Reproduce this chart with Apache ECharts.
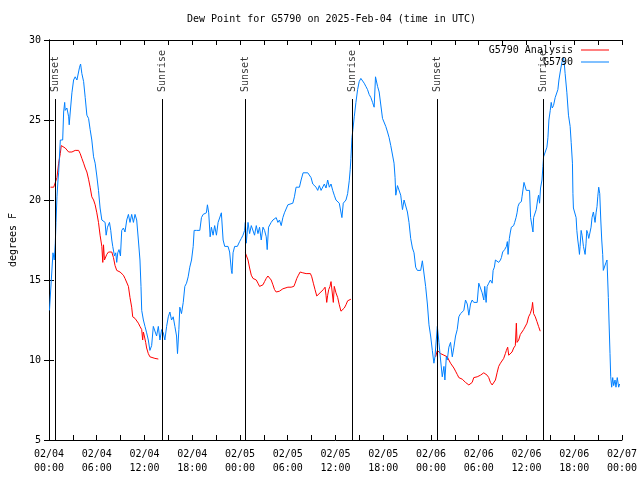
<!DOCTYPE html>
<html>
<head>
<meta charset="utf-8">
<script src="https://cdn.jsdelivr.net/npm/echarts@6/dist/echarts.min.js"></script>
<style>html,body{margin:0;padding:0;background:#fff}#c{width:640px;height:480px}</style>
</head>
<body>
<div id="c"></div>
<script>
// x tick labels (every 6 hours from 02/04 00:00 UTC)
const xTickLabels = ['02/04\n00:00','02/04\n06:00','02/04\n12:00','02/04\n18:00','02/05\n00:00','02/05\n06:00','02/05\n12:00','02/05\n18:00','02/06\n00:00','02/06\n06:00','02/06\n12:00','02/06\n18:00','02/07\n00:00'];
const yTicks = [5, 10, 15, 20, 25, 30];

// Sunrise / sunset times (hours after 02/04 00:00 UTC)
const sunHours = [0.79, 14.24, 24.71, 38.07, 48.80, 62.15];
const sunLabels = ['Sunset', 'Sunrise', 'Sunset', 'Sunrise', 'Sunset', 'Sunrise'];

// G5790 observations: [hour, dew point F]
const obs = [
[0.06,13.1],[0.16,13.1],[0.29,15.0],[0.50,16.7],[0.66,16.25],[0.79,17.3],[0.88,18.6],[1.00,20.2],[1.13,21.25],[1.21,21.7],
[1.42,23.75],[1.72,23.75],[1.84,25.5],[1.97,26.1],[2.04,25.6],[2.25,25.75],[2.47,25.2],[2.54,24.7],[2.67,25.5],[2.88,26.7],
[3.09,27.5],[3.29,27.7],[3.51,27.5],[3.72,27.5],[3.84,28.3],[3.97,28.5],[4.13,27.9],[4.35,27.4],[4.55,26.4],[4.76,25.3],
[4.97,25.1],[5.17,24.4],[5.38,23.75],[5.60,22.7],[5.80,22.3],[6.01,21.5],[6.22,20.6],[6.42,19.5],[6.64,18.75],[6.85,18.75],
[7.05,18.6],[7.18,17.8],[7.35,18.3],[7.48,18.25],[7.60,18.6],[7.76,18.1],[7.89,17.5],[8.01,17.1],[8.23,16.5],[8.39,16.7],
[8.51,16.1],[8.64,16.7],[8.80,16.9],[8.98,16.5],[9.14,18.1],[9.35,18.25],[9.55,18.0],[9.77,18.75],[9.98,19.1],[10.18,18.6],
[10.39,19.1],[10.61,18.6],[10.81,19.1],[11.02,18.75],[11.23,17.5],[11.43,16.25],[11.56,14.6],[11.65,13.1],[11.86,12.5],[12.06,12.1],
[12.27,11.7],[12.48,11.25],[12.68,10.6],[12.90,10.9],[13.11,12.1],[13.31,12.2],[13.52,11.5],[13.74,12.1],[13.94,11.25],[14.15,11.9],
[14.36,11.7],[14.56,11.25],[14.78,12.1],[14.99,12.7],[15.19,13.0],[15.40,12.5],[15.61,12.7],[15.82,12.1],[16.03,11.5],[16.15,10.4],
[16.32,11.9],[16.44,13.3],[16.65,12.9],[16.87,13.6],[17.07,14.6],[17.28,14.8],[17.49,15.2],[17.69,15.8],[17.91,16.25],[18.12,17.1],
[18.24,18.1],[18.53,18.1],[18.95,18.1],[19.16,18.9],[19.37,19.1],[19.57,19.2],[19.78,19.2],[19.91,19.7],[20.07,19.2],[20.25,17.7],
[20.41,18.3],[20.62,17.8],[20.82,18.4],[21.04,17.8],[21.25,18.6],[21.45,18.6],[21.66,19.2],[21.88,17.5],[22.08,17.1],[22.50,17.1],
[22.70,16.75],[22.92,15.6],[23.00,15.4],[23.13,16.7],[23.33,17.1],[23.67,17.1],[23.95,17.4],[24.17,17.6],[24.38,17.8],[24.58,18.1],
[24.67,18.6],[24.79,17.3],[25.01,18.6],[25.21,17.9],[25.42,18.4],[25.63,18.3],[25.83,17.8],[26.05,18.4],[26.26,17.9],[26.46,18.3],
[26.67,17.5],[26.89,18.3],[27.09,18.1],[27.30,17.7],[27.42,16.9],[27.59,18.3],[27.92,18.6],[28.14,18.75],[28.34,18.75],[28.55,18.9],
[28.76,18.6],[28.96,18.75],[29.18,18.4],[29.39,18.9],[29.59,19.2],[29.80,19.3],[30.02,19.7],[30.22,19.8],[30.64,19.8],[30.84,20.2],
[31.05,20.8],[31.47,20.8],[31.68,21.25],[31.93,21.7],[32.52,21.7],[32.93,21.4],[33.15,21.0],[33.56,20.8],[33.77,20.6],[33.97,20.9],
[34.19,20.6],[34.60,21.0],[34.81,20.75],[35.02,21.25],[35.23,20.8],[35.44,21.0],[35.65,20.6],[35.85,20.3],[36.06,20.0],[36.28,19.9],
[36.48,19.8],[36.69,19.7],[36.81,18.9],[36.98,19.8],[37.32,20.0],[37.53,20.4],[37.73,21.2],[37.85,21.9],[37.94,22.6],[38.07,23.9],
[38.19,24.4],[38.36,25.2],[38.57,26.1],[38.78,26.9],[38.98,27.4],[39.19,27.6],[39.41,27.6],[39.61,27.3],[39.82,27.1],[40.03,26.9],
[40.23,26.6],[40.45,26.4],[40.66,26.1],[40.86,25.8],[41.03,27.7],[41.16,27.8],[41.29,27.1],[41.49,26.75],[41.70,26.7],[41.91,25.1],
[42.11,25.0],[42.32,24.6],[42.54,24.25],[42.74,23.9],[42.95,23.4],[43.16,23.3],[43.36,22.3],[43.49,21.4],[43.58,20.3],[43.79,20.9],
[43.99,20.9],[44.20,20.3],[44.42,19.4],[44.62,20.0],[44.83,20.0],[45.04,19.25],[45.24,18.6],[45.45,17.6],[45.67,17.0],[45.87,16.7],
[46.08,15.8],[46.29,15.6],[46.71,15.6],[46.92,16.2],[47.12,16.25],[47.33,14.6],[47.55,13.5],[47.75,12.2],[47.96,11.5],[48.17,10.6],
[48.37,9.8],[48.50,10.2],[48.71,11.5],[48.80,12.1],[49.00,11.1],[49.21,10.0],[49.42,8.95],[49.63,9.6],[49.75,8.75],[49.93,10.2],
[50.05,10.0],[50.25,10.8],[50.46,11.1],[50.68,10.2],[50.88,10.8],[51.09,11.5],[51.30,11.9],[51.50,12.7],[51.72,12.9],[51.93,12.9],
[52.13,13.1],[52.34,13.75],[52.56,13.5],[52.76,12.8],[52.97,13.5],[53.18,13.75],[53.38,13.6],[53.81,13.6],[54.01,14.8],[54.22,14.8],
[54.43,14.2],[54.64,13.75],[54.76,14.6],[54.93,13.6],[55.06,14.6],[55.26,14.8],[55.47,15.0],[55.69,14.8],[55.81,15.6],[55.97,15.8],
[56.10,16.25],[56.31,16.25],[56.51,16.1],[56.73,16.25],[56.85,16.4],[57.01,16.75],[57.26,16.9],[57.48,17.1],[57.60,17.4],[57.69,16.6],
[57.77,16.6],[57.85,17.6],[57.98,18.0],[58.10,18.3],[58.39,18.4],[58.52,18.6],[58.69,18.9],[58.82,19.2],[58.94,19.6],[59.10,19.8],
[59.36,19.9],[59.44,20.2],[59.57,20.3],[59.69,21.1],[59.86,21.1],[59.98,20.6],[60.39,20.6],[60.52,18.9],[60.69,18.9],[60.82,18.0],
[60.90,18.9],[61.11,18.9],[61.23,19.4],[61.40,20.0],[61.52,20.3],[61.65,19.8],[61.77,20.75],[61.95,21.25],[62.07,22.1],[62.15,22.7],
[62.36,23.0],[62.57,23.3],[62.70,23.9],[62.82,25.0],[62.99,25.6],[63.11,26.1],[63.24,25.75],[63.40,25.9],[63.61,26.4],[63.82,26.4],
[63.95,26.9],[64.08,27.5],[64.24,28.0],[64.45,28.6],[64.65,28.9],[64.74,28.6],[64.86,27.9],[65.08,26.7],[65.28,25.3],[65.49,24.6],
[65.62,23.6],[65.78,22.3],[65.84,20.4],[65.90,19.5],[66.12,19.4],[66.24,18.9],[66.33,18.1],[66.45,17.5],[66.58,17.0],[66.66,16.6],
[66.74,17.1],[66.87,18.1],[66.99,17.8],[67.16,17.1],[67.37,16.6],[67.49,17.3],[67.58,18.1],[67.71,17.9],[67.83,17.6],[68.00,17.6],
[68.12,18.3],[68.24,18.9],[68.41,19.25],[68.62,18.6],[68.75,19.2],[68.87,19.6],[68.96,20.2],[69.08,20.8],[69.21,20.4],[69.34,18.75],
[69.46,17.5],[69.58,16.6],[69.66,15.6],[69.87,15.6],[70.00,16.1],[70.12,16.25],[70.21,15.0],[70.29,13.9],[70.37,12.5],[70.50,10.4],
[70.59,8.95],[70.71,8.3],[70.84,8.9],[70.96,8.4],[71.13,8.75],[71.25,8.3],[71.41,8.9],[71.59,8.3],[71.71,8.5]
];

// G5790 Analysis: three segments (null = gap)
const analysis = [
[0.19,20.8],[0.59,20.8],[0.79,20.9],[1.00,21.4],[1.21,22.3],[1.42,22.9],[1.54,23.4],[1.72,23.4],[2.04,23.25],[2.47,23.0],
[2.88,23.0],[3.29,23.1],[3.72,23.1],[3.92,22.9],[4.13,22.6],[4.35,22.3],[4.55,22.0],[4.76,21.75],[4.97,21.3],[5.17,20.8],
[5.38,20.2],[5.60,20.0],[5.80,19.7],[6.01,19.2],[6.22,18.6],[6.42,17.8],[6.64,17.1],[6.76,16.1],[6.85,17.2],[6.97,16.25],
[7.26,16.6],[7.48,16.75],[7.89,16.75],[8.10,16.4],[8.30,15.9],[8.51,15.6],[8.93,15.5],[9.14,15.4],[9.35,15.3],[9.55,15.1],
[9.77,15.1],[9.98,14.6],[10.18,13.9],[10.39,13.3],[10.52,12.7],[10.81,12.6],[11.02,12.5],[11.23,12.3],[11.43,12.1],[11.65,11.9],
[11.77,11.25],[11.86,11.75],[11.98,11.5],[12.15,11.1],[12.27,10.75],[12.48,10.4],[12.68,10.2],[12.90,10.2],[13.31,10.1],[13.74,10.06],
[14.0,null],
[24.67,16.7],[24.79,16.6],[25.01,16.25],[25.21,15.75],[25.42,15.3],[25.63,15.1],[25.83,15.05],[26.05,15.0],[26.26,14.8],[26.46,14.6],
[26.67,14.5],[26.89,14.7],[27.09,14.9],[27.30,15.1],[27.51,15.25],[27.71,15.3],[27.92,15.0],[28.14,14.7],[28.34,14.4],[28.55,14.25],
[28.76,14.25],[28.96,14.3],[29.18,14.4],[29.39,14.45],[29.59,14.5],[30.02,14.55],[30.43,14.55],[30.77,14.6],[30.93,14.8],[31.14,15.1],
[31.34,15.3],[31.56,15.5],[31.89,15.45],[32.31,15.4],[32.85,15.4],[33.02,15.2],[33.22,14.8],[33.43,14.4],[33.65,14.0],[33.85,14.0],
[34.06,14.2],[34.27,14.25],[34.47,14.4],[34.69,14.55],[34.81,14.05],[34.90,13.6],[35.02,14.05],[35.15,14.4],[35.31,14.6],[35.44,14.9],
[35.56,15.0],[35.65,14.8],[35.73,13.6],[35.85,14.6],[36.06,14.2],[36.28,13.9],[36.48,13.45],[36.69,13.05],[36.90,13.05],[37.11,13.25],
[37.32,13.45],[37.53,13.7],[37.73,13.8],[37.94,13.8],
[38.2,null],
[48.59,10.2],[48.80,10.6],[49.00,10.5],[49.21,10.4],[49.42,10.4],[49.63,10.3],[49.84,10.3],[50.05,10.2],[50.25,10.0],[50.46,9.8],
[50.68,9.7],[50.88,9.5],[51.09,9.3],[51.30,9.1],[51.50,8.9],[51.72,8.9],[51.93,8.8],[52.13,8.7],[52.34,8.6],[52.56,8.5],
[52.76,8.44],[52.97,8.55],[53.18,8.6],[53.38,8.9],[53.59,8.95],[53.81,8.95],[54.01,9.0],[54.22,9.05],[54.43,9.1],[54.64,9.2],
[54.85,9.2],[55.06,9.05],[55.26,8.9],[55.47,8.6],[55.69,8.44],[55.89,8.44],[56.10,8.75],[56.31,9.2],[56.51,9.6],[56.73,9.8],
[56.94,9.9],[57.14,10.1],[57.35,10.4],[57.48,10.6],[57.64,10.8],[57.77,10.3],[57.98,10.3],[58.19,10.5],[58.39,10.75],[58.60,10.9],
[58.73,12.3],[58.82,11.1],[59.02,11.25],[59.23,11.6],[59.44,11.75],[59.64,11.9],[59.86,11.9],[60.07,12.3],[60.27,12.7],[60.48,12.9],
[60.69,13.25],[60.77,13.6],[60.90,12.9],[61.11,12.7],[61.32,12.4],[61.52,12.1],[61.73,11.8]
];

const FONT = 'DejaVu Sans Mono';
const lineTop = 26.31;      // top end of sunrise/sunset markers
const labelAnchor = 26.75;  // start of the rotated marker text

const chart = echarts.init(document.getElementById('c'), null, {renderer: 'canvas'});
const axisCommon = {
  type: 'value',
  axisLine: {show: true, lineStyle: {color: '#000', width: 1}},
  splitLine: {show: false}
};
chart.setOption({
  animation: false,
  backgroundColor: '#fff',
  textStyle: {fontFamily: FONT, color: '#000'},
  title: {
    text: 'Dew Point for G5790 on 2025-Feb-04 (time in UTC)',
    left: 187, top: 14, padding: 0,
    textStyle: {fontFamily: FONT, fontSize: 10, fontWeight: 'normal', color: '#000'}
  },
  legend: {
    data: ['G5790 Analysis', 'G5790'],
    orient: 'vertical', align: 'right',
    right: 31, top: 45, padding: 0, itemGap: 2,
    itemWidth: 28, itemHeight: 1, icon: 'rect',
    textStyle: {fontFamily: FONT, fontSize: 10, color: '#000', padding: [0, 3, 0, 0]}
  },
  grid: {left: 47, right: 17, top: 40, bottom: 40, containLabel: false},
  xAxis: [
    Object.assign({}, axisCommon, {
      position: 'bottom', min: 0, max: 72, interval: 6,
      axisTick: {show: true, inside: true, length: 5, lineStyle: {color: '#000'}},
      minorTick: {show: true, splitNumber: 2, length: 5, lineStyle: {color: '#000'}},
      axisLabel: {
        margin: 7, fontFamily: FONT, fontSize: 10, color: '#000', lineHeight: 14,
        formatter: v => xTickLabels[Math.round(v / 6)] || ''
      }
    }),
    Object.assign({}, axisCommon, {
      position: 'top', min: 0, max: 72, interval: 6,
      axisTick: {show: true, inside: true, length: 5, lineStyle: {color: '#000'}},
      minorTick: {show: true, splitNumber: 2, length: 5, lineStyle: {color: '#000'}},
      axisLabel: {show: false}
    })
  ],
  yAxis: [
    Object.assign({}, axisCommon, {
      position: 'left', min: yTicks[0], max: yTicks[yTicks.length - 1], interval: 5,
      name: 'degrees F', nameLocation: 'middle', nameGap: 31,
      nameTextStyle: {fontFamily: FONT, fontSize: 10, color: '#000'},
      axisTick: {show: true, inside: true, length: 5, lineStyle: {color: '#000'}},
      axisLabel: {margin: 8, fontFamily: FONT, fontSize: 10, color: '#000'}
    }),
    Object.assign({}, axisCommon, {
      position: 'right', min: yTicks[0], max: yTicks[yTicks.length - 1], interval: 5,
      axisTick: {show: true, inside: true, length: 5, lineStyle: {color: '#000'}},
      axisLabel: {show: false}
    })
  ],
  series: [
    {
      name: 'sun',
      type: 'scatter',
      symbolSize: 0,
      itemStyle: {color: 'transparent'},
      silent: true,
      data: sunHours.map((h, i) => ({value: [h, labelAnchor], name: sunLabels[i]})),
      label: {
        show: true, position: 'inside', rotate: 90, align: 'left', verticalAlign: 'middle',
        formatter: p => p.name, fontFamily: FONT, fontSize: 10, color: '#000'
      },
      markLine: {
        silent: true, symbol: ['none', 'none'], animation: false,
        label: {show: false},
        lineStyle: {color: '#000', width: 1, type: 'solid'},
        emphasis: {disabled: true},
        data: sunHours.map(h => [{coord: [h, yTicks[0]]}, {coord: [h, lineTop]}])
      },
      z: 1
    },
    {
      name: 'G5790 Analysis',
      type: 'line',
      data: analysis,
      showSymbol: false, symbol: 'none',
      connectNulls: false,
      lineStyle: {color: '#ff0000', width: 1},
      itemStyle: {color: '#ff0000'},
      z: 2
    },
    {
      name: 'G5790',
      type: 'line',
      data: obs,
      showSymbol: false, symbol: 'none',
      lineStyle: {color: '#0080ff', width: 1},
      itemStyle: {color: '#0080ff'},
      z: 3
    }
  ]
});
</script>
</body>
</html>
